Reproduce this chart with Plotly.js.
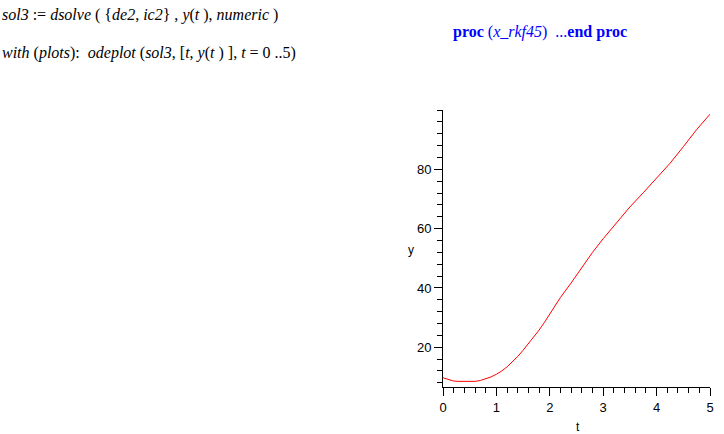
<!DOCTYPE html>
<html>
<head>
<meta charset="utf-8">
<script src="https://cdn.plot.ly/plotly-3.0.1.min.js"></script>
<style>html,body{margin:0;padding:0;background:#fff;}#chart{width:724px;height:434px;}</style>
</head>
<body>
<div id="chart"></div>
<script>
const tValues = [0, 0.1, 0.2, 0.3, 0.4, 0.5, 0.6, 0.7, 0.8, 0.9, 1.0, 1.1, 1.2, 1.3, 1.4, 1.5, 1.6, 1.7, 1.8, 1.9, 2.0, 2.2, 2.4, 2.6, 2.8, 3.0, 3.25, 3.5, 3.75, 4.0, 4.25, 4.5, 4.75, 5.0];
const yValues = [9.7, 9.2, 8.6, 8.5, 8.5, 8.5, 8.5, 8.8, 9.3, 10.0, 10.9, 12.0, 13.4, 15.0, 16.9, 19.0, 21.2, 23.5, 25.8, 28.4, 31.3, 36.8, 41.7, 47.0, 52.0, 56.6, 61.8, 67.3, 72.1, 77.0, 82.0, 87.6, 93.4, 98.6];
const xTickVals = [0, 1, 2, 3, 4, 5];
const yTickVals = [20, 40, 60, 80];
const cmd1 = "<i>sol3</i> := <i>dsolve</i> ( {<i>de2</i>, <i>ic2</i>} , <i>y</i>(<i>t</i> ), <i>numeric</i> )";
const cmd2 = "<i>with</i> (<i>plots</i>):  <i>odeplot</i> (<i>sol3</i>, [<i>t</i>, <i>y</i>(<i>t</i> ) ], <i>t</i> = 0 ..5)";
const procText = "<b>proc</b> (<i>x_rkf45</i>)  ...<b>end proc</b>";

const L = 443, R = 710, T = 110, B = 387;
function px(x){ return (x - L) / (R - L); }
function py(y){ return (B - y) / (B - T); }

const tickFont = {family: "Liberation Sans, Arial, sans-serif", size: 13, color: "#000"};
const serif = {family: "Liberation Serif, Times New Roman, serif", size: 16, color: "#000"};

const data = [{
  x: tValues, y: yValues, type: "scatter", mode: "lines",
  line: {color: "#ff0000", width: 1}, hoverinfo: "none"
}];

const layout = {
  width: 724, height: 434,
  margin: {l: L, r: 724 - R, t: T, b: 434 - B, pad: 0},
  paper_bgcolor: "#fff", plot_bgcolor: "#fff",
  showlegend: false,
  xaxis: {
    range: [0, 5], showgrid: false, zeroline: false,
    showline: true, linecolor: "#000", linewidth: 1,
    tickmode: "array", tickvals: xTickVals,
    ticks: "outside", ticklen: 8, tickcolor: "#000", tickwidth: 1,
    tickfont: tickFont,
    minor: {dtick: 0.2, ticks: "outside", ticklen: 5, tickcolor: "#000", tickwidth: 1, showgrid: false}
  },
  yaxis: {
    range: [6.6, 100], showgrid: false, zeroline: false,
    showline: true, linecolor: "#000", linewidth: 1,
    tickmode: "array", tickvals: yTickVals,
    ticks: "outside", ticklen: 8, tickcolor: "#000", tickwidth: 1,
    tickfont: tickFont,
    minor: {tick0: 0, dtick: 4, ticks: "outside", ticklen: 5, tickcolor: "#000", tickwidth: 1, showgrid: false}
  },
  annotations: [
    {text: cmd1, xref: "paper", yref: "paper", x: px(0), y: py(15), xanchor: "left", yanchor: "middle", showarrow: false, font: serif},
    {text: cmd2, xref: "paper", yref: "paper", x: px(0), y: py(53), xanchor: "left", yanchor: "middle", showarrow: false, font: serif},
    {text: procText, xref: "paper", yref: "paper", x: px(451), y: py(32), xanchor: "left", yanchor: "middle", showarrow: false, font: {family: "Liberation Serif, Times New Roman, serif", size: 16, color: "#0000ff"}},
    {text: "y", xref: "paper", yref: "paper", x: px(411), y: py(250), xanchor: "center", yanchor: "middle", showarrow: false, font: {family: "Liberation Sans, Arial, sans-serif", size: 12, color: "#000"}},
    {text: "t", xref: "paper", yref: "paper", x: px(578), y: py(427), xanchor: "center", yanchor: "middle", showarrow: false, font: {family: "Liberation Sans, Arial, sans-serif", size: 12, color: "#000"}}
  ]
};

Plotly.newPlot("chart", data, layout, {displayModeBar: false, staticPlot: true});
</script>
</body>
</html>
